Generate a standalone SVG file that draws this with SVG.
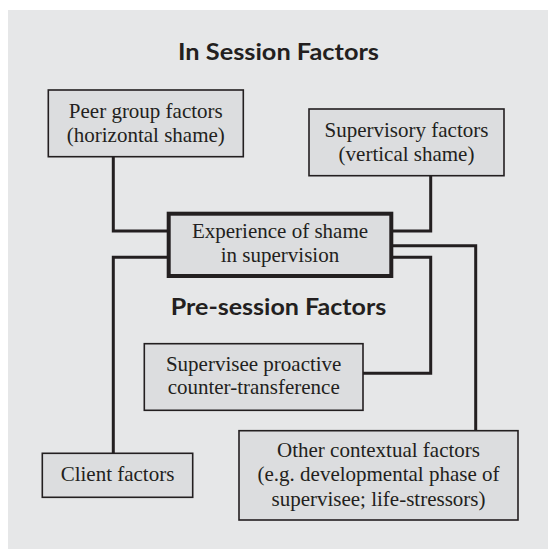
<svg xmlns="http://www.w3.org/2000/svg" width="548" height="549" viewBox="0 0 548 549">
<style>
.bg{fill:#e6e7e8}
.box{fill:#dcdddf;stroke:#231f20;stroke-width:1.6}
.main{fill:#dcdddf;stroke:#231f20;stroke-width:4}
.t{font-family:"Liberation Serif","Times New Roman",serif;font-size:21px;fill:#231f20;text-anchor:middle}
.h{font-family:Lato,"Open Sans",sans-serif;font-weight:700;font-size:22.5px;fill:#231f20;text-anchor:middle}
.c{fill:none;stroke:#231f20;stroke-width:3;stroke-linejoin:miter}
</style>
<rect class="bg" x="8" y="10" width="540" height="539"/>
<text class="h" x="278.5" y="59.5" textLength="201" lengthAdjust="spacingAndGlyphs">In Session Factors</text>
<text class="h" x="278.5" y="314.7" textLength="215.5" lengthAdjust="spacingAndGlyphs">Pre-session Factors</text>
<g id="connectors">
<polyline class="c" points="113.3,156.7 113.3,231 167,231"/>
<polyline class="c" points="167,257.3 113.3,257.3 113.3,453.3"/>
<polyline class="c" points="430.7,175.7 430.7,231 393,231"/>
<polyline class="c" points="393,245.7 475.7,245.7 475.7,430.7"/>
<polyline class="c" points="393,257.3 430.7,257.3 430.7,373.3 363,373.3"/>
</g>
<g id="peer">
<rect class="box" x="48.3" y="90" width="195" height="66.7"/>
<text class="t" x="145.8" y="118.3">Peer group factors</text>
<text class="t" x="145.8" y="141.7">(horizontal shame)</text>
</g>
<g id="supervisory">
<rect class="box" x="309" y="109" width="195" height="66.7"/>
<text class="t" x="406.5" y="136.7">Supervisory factors</text>
<text class="t" x="406.5" y="161">(vertical shame)</text>
</g>
<g id="experience">
<rect class="main" x="168.7" y="213.7" width="222.6" height="62.3"/>
<text class="t" x="280" y="238.3">Experience of shame</text>
<text class="t" x="280" y="262">in supervision</text>
</g>
<g id="supervisee">
<rect class="box" x="144.3" y="343.7" width="218.7" height="66.6"/>
<text class="t" x="253.7" y="370.7">Supervisee proactive</text>
<text class="t" x="253.7" y="394">counter-transference</text>
</g>
<g id="client">
<rect class="box" x="42.3" y="453.3" width="150.4" height="44"/>
<text class="t" x="117.5" y="481.3">Client factors</text>
</g>
<g id="other">
<rect class="box" x="239" y="430.7" width="279" height="89.3"/>
<text class="t" x="378.5" y="457.3">Other contextual factors</text>
<text class="t" x="378.5" y="481.3">(e.g. developmental phase of</text>
<text class="t" x="378.5" y="505.7">supervisee; life-stressors)</text>
</g>
</svg>
